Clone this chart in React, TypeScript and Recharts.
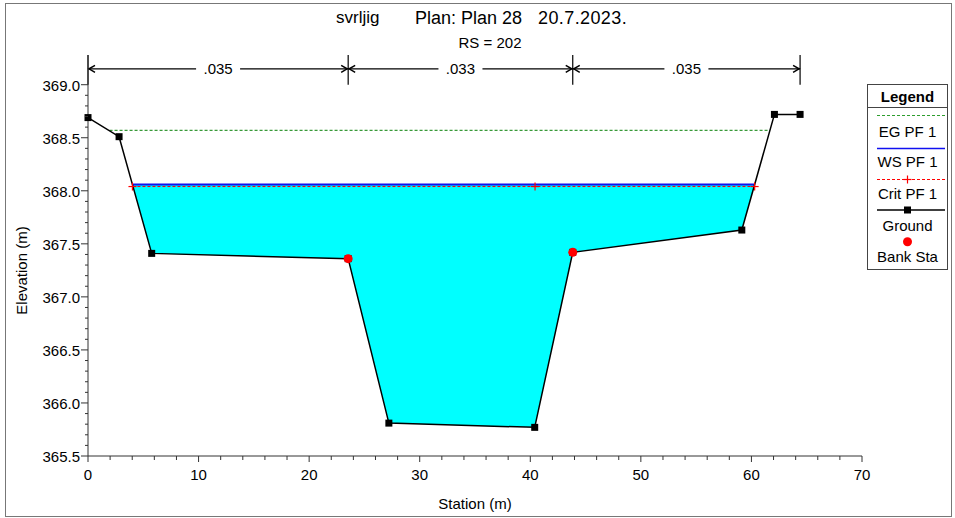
import { ComposedChart, Line, Area, Scatter, XAxis, YAxis, ReferenceLine } from 'recharts';

// ground cross-section (station m, elevation m)
const stations = [0, 2.81, 5.76, 23.53, 27.21, 40.4, 43.84, 59.13, 62.08, 64.4];
const groundElev = [368.69, 368.51, 367.41, 367.36, 365.81, 365.77, 367.42, 367.63, 368.72, 368.72];

const bankStations = [23.53, 43.84];
const bankElev = [367.36, 367.42];

// profile PF 1
const wsElev = 368.06;
const critElev = 368.04;
const egElev = 368.57;
const wsStations = [4.02, 60.29];
const egStations = [1.95, 61.67];
const critStations = [4.02, 40.43, 60.29];

// manning's n zones
const nBoundaries = [0, 23.53, 43.84, 64.4];
const nValues = ['.035', '.033', '.035'];
const nRowElev = 369.15;
const yTop = 369.28;

const xMajorTicks = [0, 10, 20, 30, 40, 50, 60, 70];
const yMajorTicks = [365.5, 366.0, 366.5, 367.0, 367.5, 368.0, 368.5, 369.0];

const FONT = '"Liberation Sans", Arial, sans-serif';

const xTicks: number[] = [];
for (let i = 0; i <= 35; i++) xTicks.push(i * 2);
const yTicks: number[] = [];
for (let i = 0; i <= 35; i++) yTicks.push(Math.round((365.5 + i * 0.1) * 10) / 10);

const ground = stations.map((x, i) => ({ x, y: groundElev[i] }));
const banks = bankStations.map((x, i) => ({ x, y: bankElev[i] }));
const ws = wsStations.map((x) => ({ x, y: wsElev }));
const eg = egStations.map((x) => ({ x, y: egElev }));
const crit = critStations.map((x) => ({ x, y: critElev }));
const water = [
  { x: wsStations[0], range: [wsElev, wsElev] },
  ...ground
    .filter((p) => p.x > wsStations[0] && p.x < wsStations[1])
    .map((p) => ({ x: p.x, range: [p.y, wsElev] })),
  { x: wsStations[1], range: [wsElev, wsElev] },
];

const isMajor = (list: number[], v: number) => list.some((t) => Math.abs(t - v) < 1e-6);

const YTick = (props: any) => {
  const { x, y, payload } = props;
  const v = payload.value;
  const major = isMajor(yMajorTicks, v);
  return (
    <g>
      <line x1={x - (major ? 7 : 3)} x2={x} y1={y} y2={y} stroke="#333" />
      {major && (
        <text x={x - 8} y={y + 6} textAnchor="end" fontSize={15} fontFamily={FONT} fill="#000">
          {v.toFixed(1)}
        </text>
      )}
    </g>
  );
};

const XTick = (props: any) => {
  const { x, y, payload } = props;
  const v = payload.value;
  const major = isMajor(xMajorTicks, v);
  return (
    <g>
      <line x1={x} x2={x} y1={y} y2={y + (major ? 6 : 4)} stroke="#333" />
      {major && (
        <text x={x} y={y + 24} textAnchor="middle" fontSize={15} fontFamily={FONT} fill="#000">
          {v}
        </text>
      )}
    </g>
  );
};

const squareDot = (p: any) => (
  <rect key={`g${p.index}`} x={p.cx - 3.5} y={p.cy - 3.5} width={7} height={7} fill="#000" />
);

const plusDot = (p: any) => (
  <g key={`c${p.index}`}>
    <line x1={p.cx - 4} x2={p.cx + 4} y1={p.cy} y2={p.cy} stroke="#f00" strokeWidth={1.2} />
    <line x1={p.cx} x2={p.cx} y1={p.cy - 4} y2={p.cy + 4} stroke="#f00" strokeWidth={1.2} />
  </g>
);

const nSpan = (label: string) => (p: any) => {
  const { x1, x2, y1 } = p;
  const mx = (x1 + x2) / 2;
  const w = label.length * 8 + 12;
  return (
    <g>
      <line x1={x1} y1={y1} x2={x2} y2={y1} stroke="#000" strokeWidth={1.2} />
      <polyline points={`${x1 + 7},${y1 - 3.5} ${x1 + 1},${y1} ${x1 + 7},${y1 + 3.5}`} fill="none" stroke="#000" strokeWidth={1.5} />
      <polyline points={`${x2 - 7},${y1 - 3.5} ${x2 - 1},${y1} ${x2 - 7},${y1 + 3.5}`} fill="none" stroke="#000" strokeWidth={1.5} />
      <rect x={mx - w / 2} y={y1 - 8} width={w} height={16} fill="#fff" />
      <text x={mx} y={y1 + 5.5} textAnchor="middle" fontSize={15} fontFamily={FONT} fill="#000">
        {label}
      </text>
    </g>
  );
};

const yTitle = (p: any) => {
  const vb = p.viewBox || { x: 0, y: 55, width: 88, height: 400 };
  const cx = vb.x + 21;
  const cy = vb.y + vb.height / 2 + 15;
  return (
    <text x={cx} y={cy} transform={`rotate(-90, ${cx}, ${cy})`} textAnchor="middle" dominantBaseline="central"
      fontSize={15} fontFamily={FONT} fill="#000">
      Elevation (m)
    </text>
  );
};

function LegendBox() {
  const cx = 40.5;
  return (
    <svg width={82} height={187} style={{ position: 'absolute', left: 867, top: 84, fontFamily: FONT }}>
      <rect x={0.5} y={0.5} width={80} height={185} fill="#fff" stroke="#444" />
      <text x={cx} y={17.5} textAnchor="middle" fontSize={15} fontWeight="bold">Legend</text>
      <line x1={0.5} x2={80.5} y1={23.5} y2={23.5} stroke="#444" />
      <line x1={10} x2={78} y1={31.5} y2={31.5} stroke="#2e9e2e" strokeWidth={1.2} strokeDasharray="3 2" />
      <text x={cx} y={53} textAnchor="middle" fontSize={15}>EG PF 1</text>
      <line x1={10} x2={78} y1={64.5} y2={64.5} stroke="#1010f0" strokeWidth={1.6} />
      <text x={cx} y={82.5} textAnchor="middle" fontSize={15}>WS PF 1</text>
      <line x1={10} x2={78} y1={95.5} y2={95.5} stroke="#f00" strokeWidth={1} strokeDasharray="3 2" />
      <line x1={cx - 4} x2={cx + 4} y1={95.5} y2={95.5} stroke="#f00" strokeWidth={1.2} />
      <line x1={cx} x2={cx} y1={91.5} y2={99.5} stroke="#f00" strokeWidth={1.2} />
      <text x={cx} y={114.5} textAnchor="middle" fontSize={15}>Crit PF 1</text>
      <line x1={10} x2={78} y1={126} y2={126} stroke="#000" strokeWidth={1.5} />
      <rect x={cx - 3.5} y={122.5} width={7} height={7} fill="#000" />
      <text x={cx} y={147} textAnchor="middle" fontSize={15}>Ground</text>
      <circle cx={cx} cy={157.7} r={4.5} fill="#f00" />
      <text x={cx} y={178} textAnchor="middle" fontSize={15}>Bank Sta</text>
    </svg>
  );
}

export default function App() {
  return (
    <div style={{ position: 'absolute', left: 0, top: 0, width: 955, height: 518, background: '#fff', fontFamily: FONT }}>
      <div style={{ position: 'absolute', left: 5, top: 3, width: 945, height: 512, border: '1px solid #777' }} />
      <div style={{ position: 'absolute', left: 336, top: 8, fontSize: 17, lineHeight: '20px', whiteSpace: 'pre' }}>
        svrljig
      </div>
      <div style={{ position: 'absolute', left: 415, top: 8, fontSize: 18, lineHeight: '20px', whiteSpace: 'pre' }}>
        Plan: Plan 28
      </div>
      <div style={{ position: 'absolute', left: 538, top: 8, fontSize: 18, lineHeight: '20px', whiteSpace: 'pre', letterSpacing: 0.4 }}>
        20.7.2023.
      </div>
      <div style={{ position: 'absolute', left: 430, width: 120, top: 34, fontSize: 15, lineHeight: '17px', textAlign: 'center' }}>
        RS = 202
      </div>
      <div style={{ position: 'absolute', left: 0, top: 0 }}>
        <ComposedChart width={955} height={518} margin={{ top: 55, right: 93, bottom: 0, left: 0 }}>
          <XAxis
            type="number"
            dataKey="x"
            domain={[0, 70]}
            ticks={xTicks}
            interval={0}
            tickSize={0}
            tickMargin={0}
            tickLine={false}
            tick={<XTick />}
            height={62}
            stroke="#333"
            label={{ value: 'Station (m)', position: 'insideBottom', offset: 9, fontSize: 15, fill: '#000', fontFamily: FONT }}
          />
          <YAxis
            type="number"
            domain={[365.5, yTop]}
            ticks={yTicks}
            interval={0}
            tickSize={0}
            tickMargin={0}
            tickLine={false}
            tick={<YTick />}
            width={88}
            stroke="#333"
            label={{ content: yTitle }}
          />
          <Area
            data={water}
            dataKey="range"
            type="linear"
            fill="#00ffff"
            fillOpacity={1}
            stroke="none"
            isAnimationActive={false}
          />
          <Line data={eg} dataKey="y" type="linear" stroke="#3a9a3a" strokeWidth={1.2} strokeDasharray="3 2" dot={false} isAnimationActive={false} />
          <Line data={ws} dataKey="y" type="linear" stroke="#1010f0" strokeWidth={2} dot={false} isAnimationActive={false} />
          <Line data={crit} dataKey="y" type="linear" stroke="#f00" strokeWidth={1} strokeDasharray="3 2" dot={plusDot} isAnimationActive={false} />
          <Line data={ground} dataKey="y" type="linear" stroke="#000" strokeWidth={1.5} dot={squareDot} isAnimationActive={false} />
          <Scatter data={banks} dataKey="y" fill="#f00" isAnimationActive={false}
            shape={(p: any) => <circle cx={p.cx} cy={p.cy} r={4.5} fill="#f00" />} />
          {nBoundaries.map((b) => (
            <ReferenceLine key={`b${b}`} segment={[{ x: b, y: 369.0 }, { x: b, y: yTop }]} stroke="#000" strokeWidth={1.2} />
          ))}
          {nValues.map((v, i) => (
            <ReferenceLine
              key={`n${i}`}
              segment={[{ x: nBoundaries[i], y: nRowElev }, { x: nBoundaries[i + 1], y: nRowElev }]}
              shape={nSpan(v)}
            />
          ))}
        </ComposedChart>
      </div>
      <LegendBox />
    </div>
  );
}
